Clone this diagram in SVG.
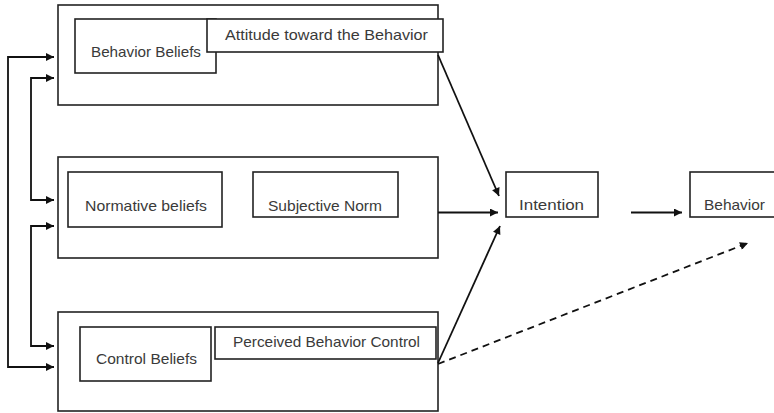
<svg xmlns="http://www.w3.org/2000/svg" width="774" height="413" viewBox="0 0 774 413">
<style>
.box{fill:none;stroke:#222;stroke-width:1.6}
.t{font-family:"Liberation Sans",Arial,sans-serif;font-size:15px;fill:#3a3a3a}
.ln{fill:none;stroke:#111;stroke-width:1.8}
</style>
<defs>
<marker id="ah" viewBox="0 0 10 10" refX="10" refY="5" markerWidth="10" markerHeight="8" markerUnits="userSpaceOnUse" orient="auto">
<path d="M0,0 L10,5 L0,10 z" fill="#111"/>
</marker>
</defs>
<rect width="774" height="413" fill="#fff"/>
<g id="attitude-group">
<rect class="box" x="58" y="5" width="380" height="100"/>
<g id="behavior-beliefs">
<rect class="box" x="75" y="19" width="141" height="54"/>
<text class="t" x="91" y="57" textLength="110" lengthAdjust="spacingAndGlyphs">Behavior Beliefs</text>
</g>
<g id="attitude">
<rect class="box" x="207" y="19" width="236" height="33" style="fill:#fff"/>
<text class="t" x="225" y="40" textLength="203" lengthAdjust="spacingAndGlyphs">Attitude toward the Behavior</text>
</g>
</g>
<g id="norm-group">
<rect class="box" x="58" y="157" width="380" height="101"/>
<g id="normative-beliefs">
<rect class="box" x="68" y="172" width="154" height="55"/>
<text class="t" x="85" y="211" textLength="122" lengthAdjust="spacingAndGlyphs">Normative beliefs</text>
</g>
<g id="subjective-norm">
<rect class="box" x="253" y="172" width="145" height="45"/>
<text class="t" x="268" y="211" textLength="114" lengthAdjust="spacingAndGlyphs">Subjective Norm</text>
</g>
</g>
<g id="control-group">
<rect class="box" x="58" y="312" width="380" height="99"/>
<g id="control-beliefs">
<rect class="box" x="80" y="327" width="131" height="54"/>
<text class="t" x="96" y="364" textLength="101" lengthAdjust="spacingAndGlyphs">Control Beliefs</text>
</g>
<g id="perceived-control">
<rect class="box" x="215" y="327" width="221" height="32"/>
<text class="t" x="233" y="347" textLength="187" lengthAdjust="spacingAndGlyphs">Perceived Behavior Control</text>
</g>
</g>
<g id="intention">
<rect class="box" x="506" y="172" width="92" height="45"/>
<text class="t" x="519" y="210" textLength="65" lengthAdjust="spacingAndGlyphs">Intention</text>
</g>
<g id="behavior">
<rect class="box" x="690" y="172" width="90" height="45"/>
<text class="t" x="704" y="210" textLength="61" lengthAdjust="spacingAndGlyphs">Behavior</text>
</g>
<g id="connectors">
<polyline class="ln" points="54,57 8,57 8,367 54,367" marker-end="url(#ah)"/>
<line class="ln" x1="8" y1="57" x2="54" y2="57" marker-end="url(#ah)"/>
<polyline class="ln" points="54,78 31,78 31,200 54,200" marker-end="url(#ah)"/>
<line class="ln" x1="31" y1="78" x2="54" y2="78" marker-end="url(#ah)"/>
<polyline class="ln" points="54,226 31,226 31,346 54,346" marker-end="url(#ah)"/>
<line class="ln" x1="31" y1="226" x2="54" y2="226" marker-end="url(#ah)"/>
<line class="ln" x1="438" y1="55" x2="499" y2="196" marker-end="url(#ah)"/>
<line class="ln" x1="438" y1="212.5" x2="498" y2="212.5" marker-end="url(#ah)"/>
<line class="ln" x1="438" y1="363" x2="500" y2="226" marker-end="url(#ah)"/>
<line class="ln" x1="631" y1="212.5" x2="682" y2="212.5" marker-end="url(#ah)"/>
<line class="ln" x1="438" y1="364" x2="748" y2="243" stroke-dasharray="7,5" marker-end="url(#ah)"/>
</g>
</svg>
